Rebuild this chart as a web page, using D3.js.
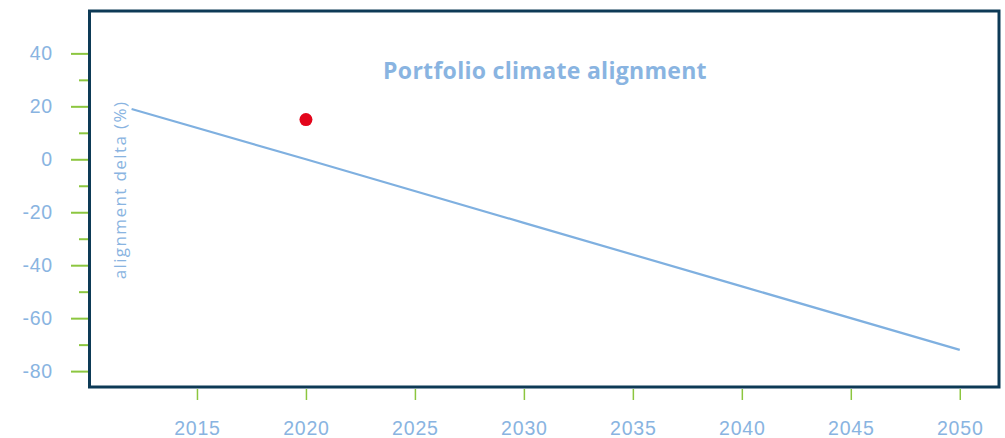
<!DOCTYPE html>
<html>
<head>
<meta charset="utf-8">
<script src="https://cdn.jsdelivr.net/npm/d3@7"></script>
<style>
  body { margin: 0; background: #fff; }
  svg { display: block; font-family: "Open Sans", Roboto, sans-serif; }
</style>
</head>
<body>
<svg width="1005" height="438"></svg>
<script>
/* data */
var pathYears  = [2012, 2020, 2030, 2040, 2050];
var pathValues = [19, 0, -24, -48, -72];
var dotYears   = [2020];
var dotValues  = [15];
var xTicks = [2015, 2020, 2025, 2030, 2035, 2040, 2045, 2050];
var yTicks = [-80, -60, -40, -20, 0, 20, 40];
var yMinor = [-70, -50, -30, -10, 10, 30];
var title  = "Portfolio climate alignment";
var yLabel = "alignment delta (%)";

var W = 1005, H = 438;
var L = 88, R = 999, T = 11, B = 387;

var labelBlue = "#89b4e1";
var tickGreen = "#8cc63f";
var frameCol  = "#0d3a56";

var svg = d3.select("svg");

var x = d3.scaleLinear().domain([2010, 2051.8]).range([L, R]);
var y = d3.scaleLinear().domain([-86, 56]).range([B, T]);

// plain hyphen for negatives, like the reference
var fmt = function(d) { return String(d); };

// y axis: major ticks with labels
var yAxis = svg.append("g")
  .attr("transform", "translate(" + L + ",0)")
  .call(d3.axisLeft(y).tickValues(yTicks).tickSize(17).tickPadding(18).tickFormat(fmt));
yAxis.select(".domain").remove();
yAxis.selectAll("line").attr("stroke", tickGreen).attr("stroke-width", 2);
yAxis.selectAll("text")
  .attr("fill", labelBlue).attr("font-size", 19.5)
  .attr("letter-spacing", 0.8);

// minor y ticks, no labels
var yMinorAxis = svg.append("g")
  .attr("transform", "translate(" + L + ",0)")
  .call(d3.axisLeft(y).tickValues(yMinor).tickSize(9).tickFormat(""));
yMinorAxis.select(".domain").remove();
yMinorAxis.selectAll("line").attr("stroke", tickGreen).attr("stroke-width", 2);

// x axis below the frame
var xAxis = svg.append("g")
  .attr("transform", "translate(0," + (B + 2) + ")")
  .call(d3.axisBottom(x).tickValues(xTicks).tickSize(11).tickFormat(fmt));
xAxis.select(".domain").remove();
xAxis.selectAll("line").attr("stroke", tickGreen).attr("stroke-width", 1.5);
xAxis.selectAll("text")
  .attr("y", 435 - (B + 2)).attr("dy", null)
  .attr("fill", labelBlue).attr("font-size", 19.5)
  .attr("letter-spacing", 0.8);

// frame
svg.append("rect")
  .attr("x", L + 1.5).attr("y", T)
  .attr("width", R - L - 1.5).attr("height", B - T)
  .attr("fill", "none")
  .attr("stroke", frameCol)
  .attr("stroke-width", 3);

// title
svg.append("text")
  .attr("x", 545).attr("y", 79)
  .attr("text-anchor", "middle")
  .attr("font-size", 23)
  .attr("font-weight", "bold")
  .attr("letter-spacing", 0.3)
  .attr("fill", labelBlue)
  .text(title);

// y label inside the frame
svg.append("text")
  .attr("transform", "translate(126,190) rotate(-90)")
  .attr("text-anchor", "middle")
  .attr("font-size", 17)
  .attr("letter-spacing", 1.4)
  .attr("fill", labelBlue)
  .text(yLabel);

// alignment path
var line = d3.line()
  .x(function(d, i) { return x(pathYears[i]); })
  .y(function(d) { return y(d); });

svg.append("path")
  .attr("d", line(pathValues))
  .attr("fill", "none")
  .attr("stroke", "#7fb0e0")
  .attr("stroke-width", 2.2);

// portfolio point
svg.selectAll("circle.dot")
  .data(dotValues)
  .enter().append("circle")
  .attr("class", "dot")
  .attr("cx", function(d, i) { return x(dotYears[i]); })
  .attr("cy", function(d) { return y(d); })
  .attr("r", 6.5)
  .attr("fill", "#e3051b");
</script>
</body>
</html>
